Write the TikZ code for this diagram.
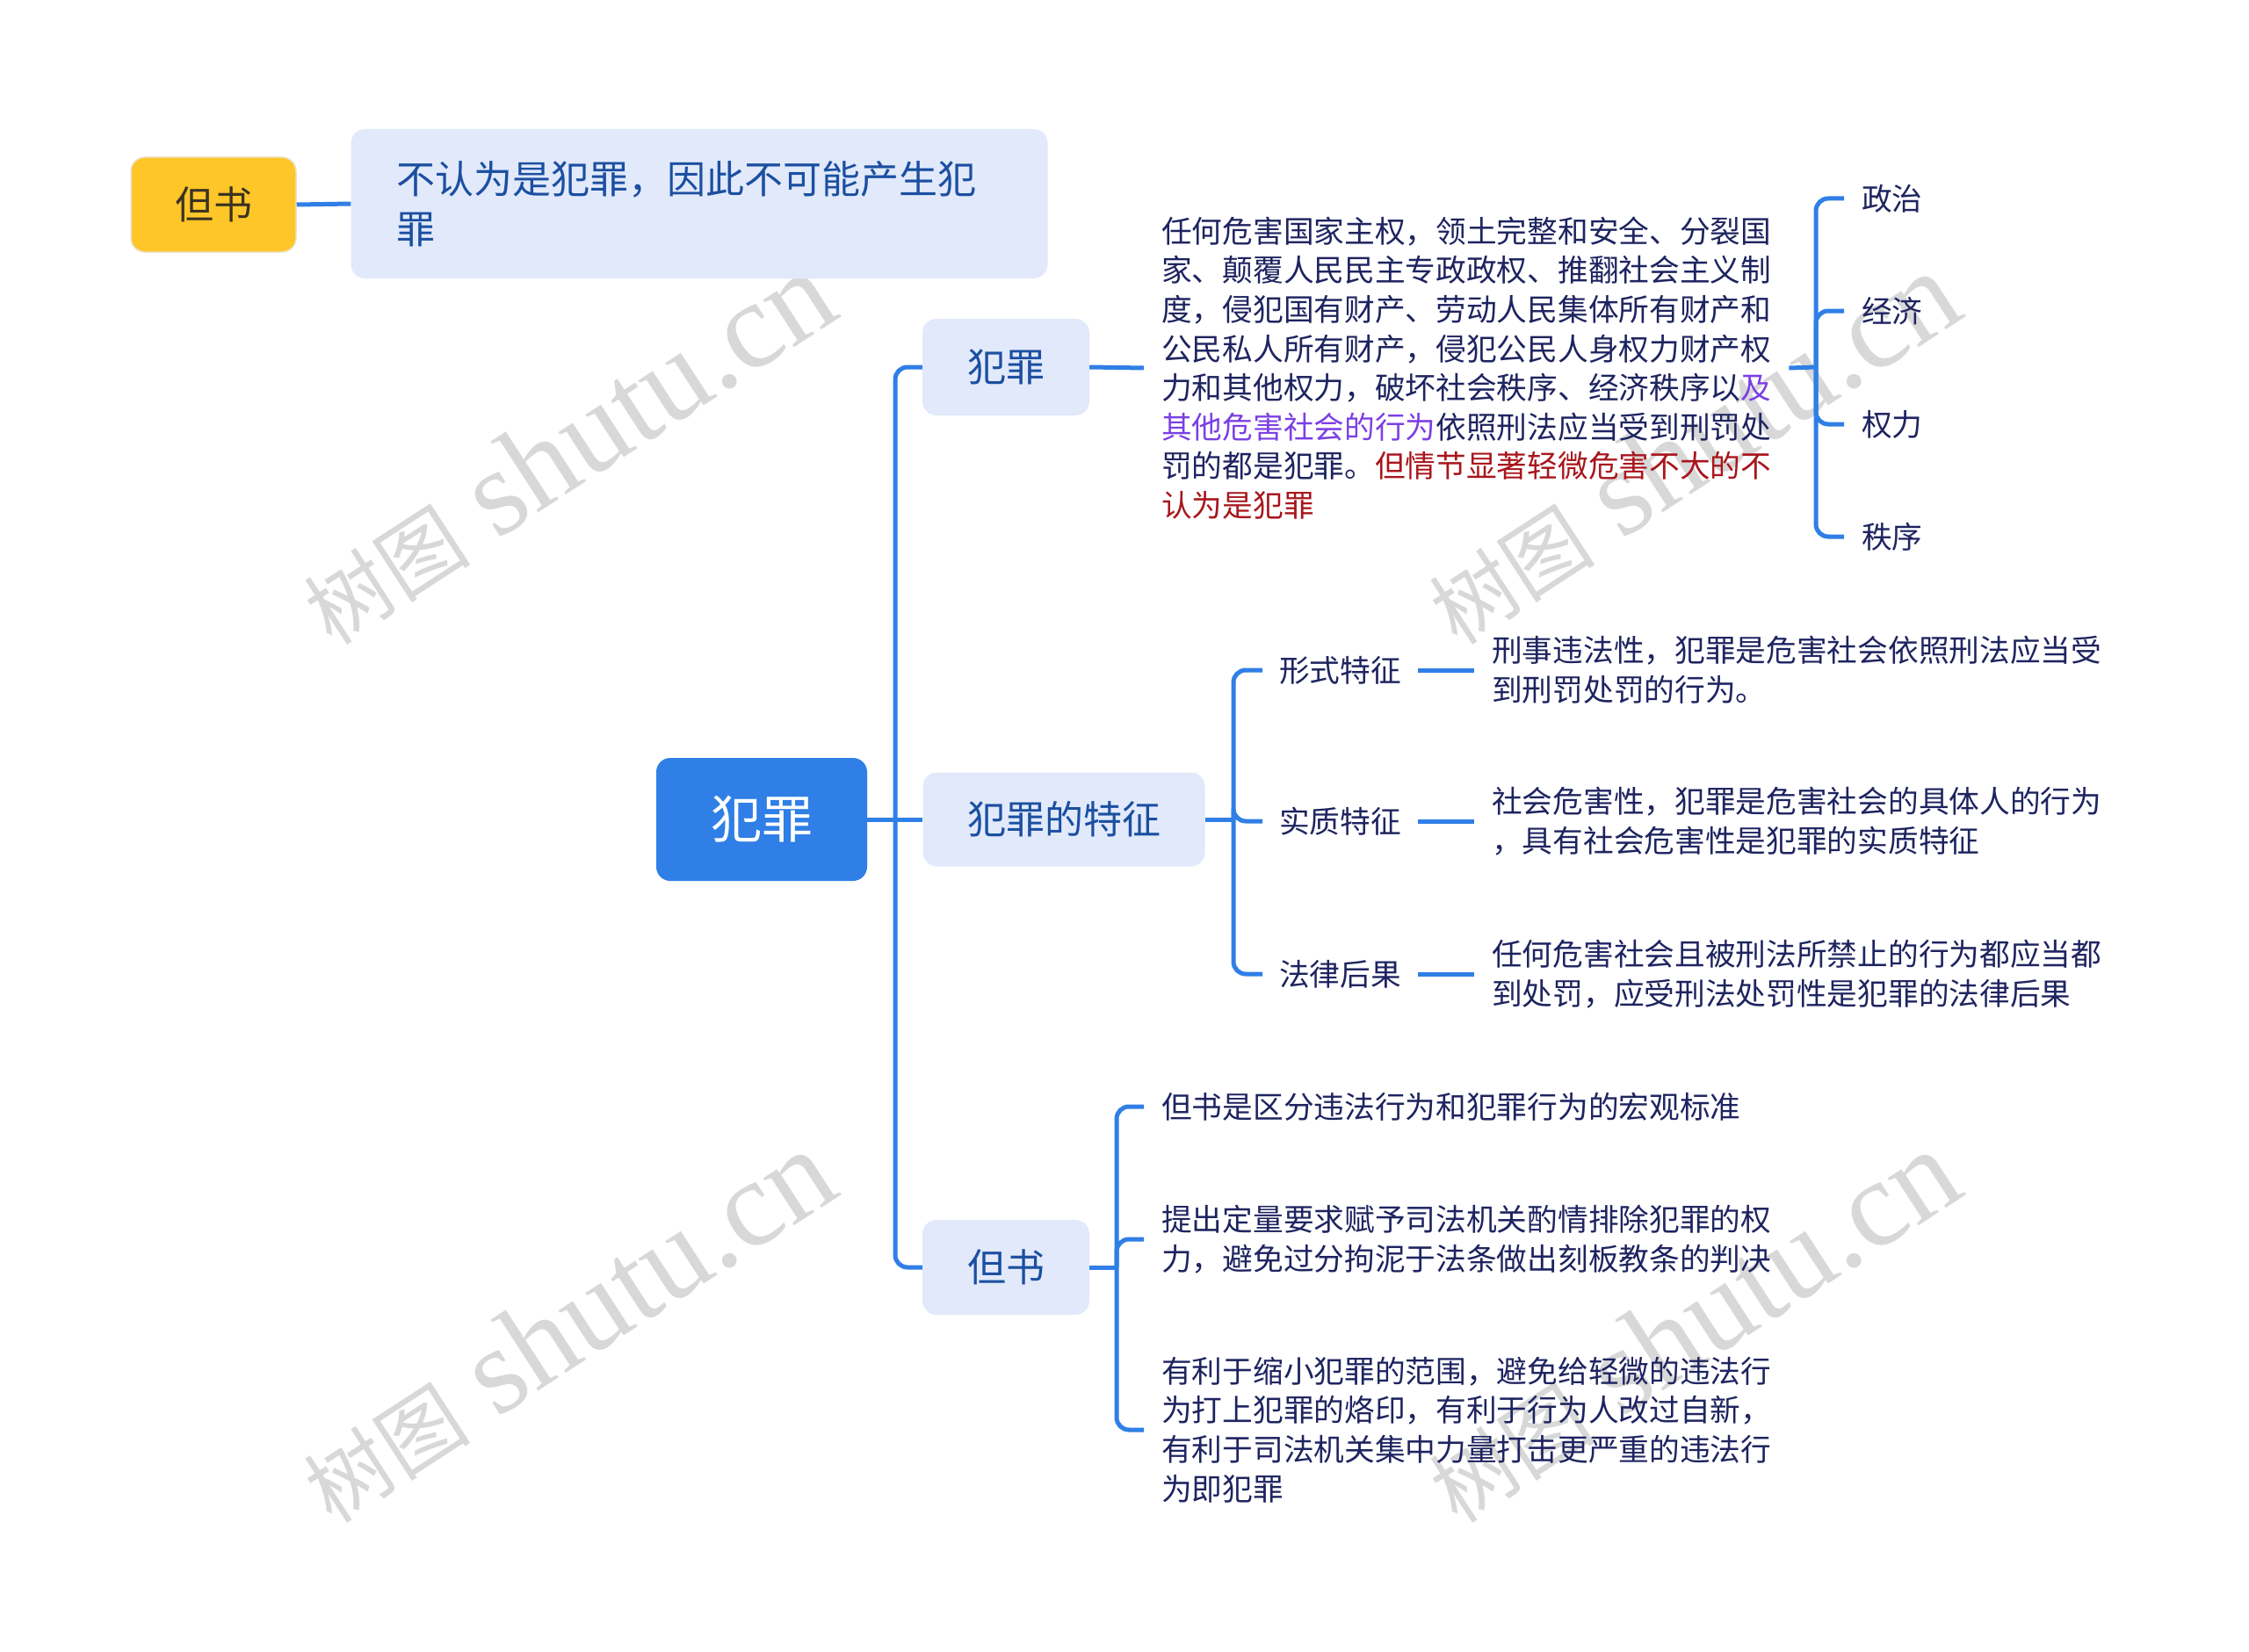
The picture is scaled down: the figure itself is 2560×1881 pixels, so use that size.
\documentclass[tikz,border=0pt]{standalone}
\usepackage{fontspec}
\setmainfont{Noto Sans CJK SC}
\newfontfamily\wmserif{Liberation Serif}
\definecolor{lineblue}{HTML}{2F7FE6}
\definecolor{rootblue}{HTML}{2F7FE6}
\definecolor{lightbox}{HTML}{E1E9FB}
\definecolor{nodetext}{HTML}{1B4FA0}
\definecolor{navy}{HTML}{1E2460}
\definecolor{purp}{HTML}{7B3FE4}
\definecolor{darkred}{HTML}{A8161C}
\definecolor{yel}{HTML}{FFC629}
\definecolor{yelborder}{HTML}{ECE3CC}
\definecolor{yeltext}{HTML}{3B3222}
\definecolor{wm}{HTML}{D8D8D8}
\tikzset{
  conn/.style={draw=lineblue, line width=5pt, rounded corners=14pt},
  lbox/.style={fill=lightbox, text=nodetext, rounded corners=16pt, inner sep=0pt,
    font=\fontsize{44}{57}\selectfont},
  rootbox/.style={fill=rootblue, text=white, rounded corners=16pt, inner sep=0pt,
    font=\fontsize{58}{60}\selectfont},
  yelbox/.style={fill=yel, draw=yelborder, line width=1.5pt, text=yeltext,
    rounded corners=16pt, inner sep=0pt, font=\fontsize{44}{50}\selectfont},
  plain/.style={text=navy, anchor=west, align=left, inner xsep=20pt, inner ysep=0pt,
    font=\fontsize{34.7}{44.6}\selectfont},
  wmark/.style={text=wm, rotate=33, inner sep=0pt}
}
\begin{document}
\begin{tikzpicture}[x=1pt,y=-1pt]
\fill[white] (0,0) rectangle (2560,1881);
\path[use as bounding box] (0,0) rectangle (2560,1881);

% watermarks
\foreach \wx/\wy [count=\i] in {645/510,645/1510,1925/510,1925/1510}{
  \node[wmark] (wm\i) at (\wx,\wy) {{\fontsize{95}{95}\selectfont 树图}\hspace{32pt}{\wmserif\fontsize{140}{140}\selectfont shutu.cn}};
}

% top-left floating topic
\node[yelbox, minimum width=188pt, minimum height=108pt] (ds0) at (243,233) {但书};
\node[lbox, minimum width=793pt, minimum height=170pt, text width=689pt, inner xsep=52pt, align=left] (top) at (796,232)
  {不认为是犯罪，因此不可能产生犯\\罪};
\draw[conn] (ds0.east) -- (top.west);

% root and main branches
\node[rootbox, minimum width=240pt, minimum height=140pt] (root) at (867,933) {犯罪};
\node[lbox, minimum width=190pt, minimum height=110pt] (c1) at (1145,418) {犯罪};
\node[lbox, minimum width=321pt, minimum height=107pt] (c2) at (1211,933) {犯罪的特征};
\node[lbox, minimum width=190pt, minimum height=108pt] (c3) at (1145,1443) {但书};

\coordinate (j0) at (1019,933);
\draw[conn] (root.east) -- (j0);
\draw[conn] (j0) |- (c1.west);
\draw[conn] (j0) -- (c2.west);
\draw[conn] (j0) |- (c3.west);

% branch 1: definition
\node[plain] (t1) at (1302,419) {任何危害国家主权，领土完整和安全、分裂国\\
家、颠覆人民民主专政政权、推翻社会主义制\\
度，侵犯国有财产、劳动人民集体所有财产和\\
公民私人所有财产，侵犯公民人身权力财产权\\
力和其他权力，破坏社会秩序、经济秩序以\textcolor{purp}{及}\\
\textcolor{purp}{其他危害社会的行为}依照刑法应当受到刑罚处\\
罚的都是犯罪。\textcolor{darkred}{但情节显著轻微危害不大的不}\\
\textcolor{darkred}{认为是犯罪}};
\draw[conn] (c1.east) -- (t1.west);
\coordinate (j1) at (2067,418);
\draw[conn] (t1.east) -- (j1);
\node[plain] (k1) at (2099,226) {政治};
\node[plain] (k2) at (2099,354) {经济};
\node[plain] (k3) at (2099,483) {权力};
\node[plain] (k4) at (2099,611) {秩序};
\foreach \k in {k1,k2,k3,k4}{ \draw[conn] (j1) |- (\k.west); }

% branch 2: features
\coordinate (j2) at (1404,933);
\draw[conn] (c2.east) -- (j2);
\node[plain, inner xsep=19pt] (f1) at (1437,763) {形式特征};
\node[plain, inner xsep=19pt] (f2) at (1437,935) {实质特征};
\node[plain, inner xsep=19pt] (f3) at (1437,1109) {法律后果};
\foreach \f in {f1,f2,f3}{ \draw[conn] (j2) |- (\f.west); }
\node[plain] (d1) at (1678,763) {刑事违法性，犯罪是危害社会依照刑法应当受\\到刑罚处罚的行为。};
\node[plain] (d2) at (1678,935) {社会危害性，犯罪是危害社会的具体人的行为\\，具有社会危害性是犯罪的实质特征};
\node[plain] (d3) at (1678,1109) {任何危害社会且被刑法所禁止的行为都应当都\\到处罚，应受刑法处罚性是犯罪的法律后果};
\draw[conn] (f1.east) -- (d1.west);
\draw[conn] (f2.east) -- (d2.west);
\draw[conn] (f3.east) -- (d3.west);

% branch 3: proviso
\coordinate (j3) at (1271,1443);
\draw[conn] (c3.east) -- (j3);
\node[plain] (e1) at (1302,1260) {但书是区分违法行为和犯罪行为的宏观标准};
\node[plain] (e2) at (1302,1411) {提出定量要求赋予司法机关酌情排除犯罪的权\\力，避免过分拘泥于法条做出刻板教条的判决};
\node[plain] (e3) at (1302,1628) {有利于缩小犯罪的范围，避免给轻微的违法行\\为打上犯罪的烙印，有利于行为人改过自新，\\有利于司法机关集中力量打击更严重的违法行\\为即犯罪};
\foreach \e in {e1,e2,e3}{ \draw[conn] (j3) |- (\e.west); }
\end{tikzpicture}
\end{document}
